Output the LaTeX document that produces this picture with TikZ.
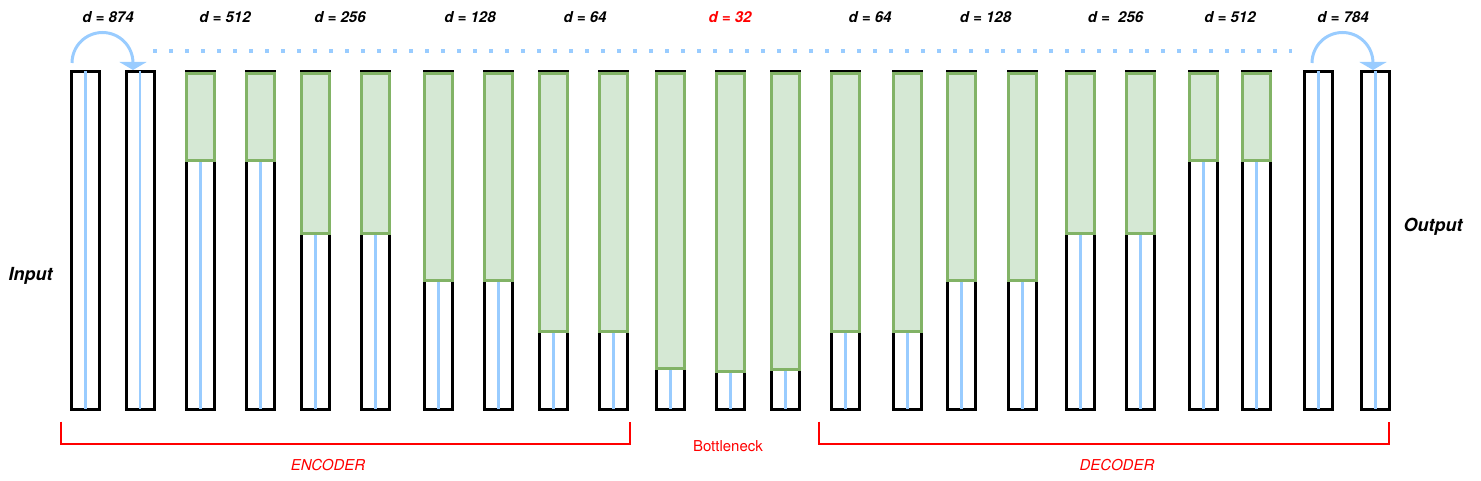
\documentclass[tikz,border=0pt]{standalone}
\usepackage{fontspec}
\setmainfont{TeX Gyre Heros}
\usetikzlibrary{arrows.meta,calc}
\definecolor{gfill}{HTML}{D5E8D4}
\definecolor{gdraw}{HTML}{82B366}
\definecolor{lblue}{HTML}{99CCFF}
\definecolor{rred}{HTML}{FF0000}
\begin{document}
\begin{tikzpicture}[x=1pt,y=-1pt,
  colbox/.style={draw=black,line width=3pt,minimum width=28pt,minimum height=337.5pt,inner sep=0pt,outer sep=0pt,anchor=north west},
  greenbox/.style={draw=gdraw,fill=gfill,line width=3pt},
  blueline/.style={draw=lblue,line width=2.5pt},
  looparrow/.style={draw=lblue,line width=3pt,-{Triangle[width=27pt,length=8pt]}},
  dotline/.style={draw=lblue,line width=4pt,dash pattern=on 4pt off 12pt},
  bracket/.style={draw=rred,line width=1.6pt},
  dlabel/.style={font=\fontsize{15}{17}\selectfont\bfseries\itshape,inner sep=0pt},
  iolabel/.style={font=\fontsize{18}{20}\selectfont\bfseries\itshape,inner sep=0pt},
  redlabel/.style={text=rred,font=\fontsize{15}{17}\selectfont,inner sep=0pt}
]
\useasboundingbox (0,0) rectangle (1481,481);

% columns
\foreach \x/\g [count=\i] in {70/0,124.5/0,185/161,245/161,300/234,360/234,423/280,483/280,538/331,598/331,655/368,715/371,770/369,830/331,892/331,946/280,1007/280,1065/234,1125/234,1188/161,1241/161,1303/0,1360/0}{
  \node[colbox] (c\i) at (\x+1.5,71.5) {};
  \ifdim \g pt>0pt
    \draw[greenbox] (\x+1.5,73.5) rectangle (\x+29.5,\g);
    \draw[blueline] (\x+15.5,\g+1.5) -- (c\i.south);
  \else
    \draw[blueline] (\x+15.5,71) -- (c\i.south);
  \fi
}

% skip connection arcs
\coordinate (a1) at ($(c1.north west)+(0.5,-8.5)$);
\coordinate (a2) at ($(c22.north west)+(7.5,-8.5)$);
\draw[looparrow] (a1) arc (180:360:30.5) -- ++(0,7);
\draw[looparrow] (a2) arc (180:360:30.5) -- ++(0,7);

% dotted line
\coordinate (dotL) at (153,50.7);
\coordinate (dotR) at (1292,50.7);
\draw[dotline] (dotL) -- (dotR);

% dimension labels
\foreach \lx/\lt [count=\j] in {108/{d = 874},225/{d = 512},340/{d = 256},470/{d = 128},585/{d = 64},870/{d = 64},985.5/{d = 128},1115.5/{d =\ \ 256},1230/{d = 512},1343/{d = 784}}{
  \node[dlabel] (d\j) at (\lx,17) {\lt};
}
\node[dlabel,text=rred] (d32) at (730,17) {d = 32};

% input/output
\node[iolabel] (in) at (30.5,276) {Input};
\node[iolabel] (out) at (1433,227) {Output};

% brackets
\coordinate (e1) at (61,421.5);
\coordinate (e2) at (630,421.5);
\coordinate (f1) at (819,421.5);
\coordinate (f2) at (1389,421.5);
\draw[bracket] (e1) -- (e1 |- 0,443.7) -- (e2 |- 0,443.7) -- (e2);
\draw[bracket] (f1) -- (f1 |- 0,443.7) -- (f2 |- 0,443.7) -- (f2);
\node[redlabel] (bn) at (728,446) {Bottleneck};
\node[redlabel,font=\fontsize{15}{17}\selectfont\itshape] (enc) at (328,465.5) {ENCODER};
\node[redlabel,font=\fontsize{15}{17}\selectfont\itshape] (dec) at (1117,465.5) {DECODER};
\end{tikzpicture}
\end{document}
